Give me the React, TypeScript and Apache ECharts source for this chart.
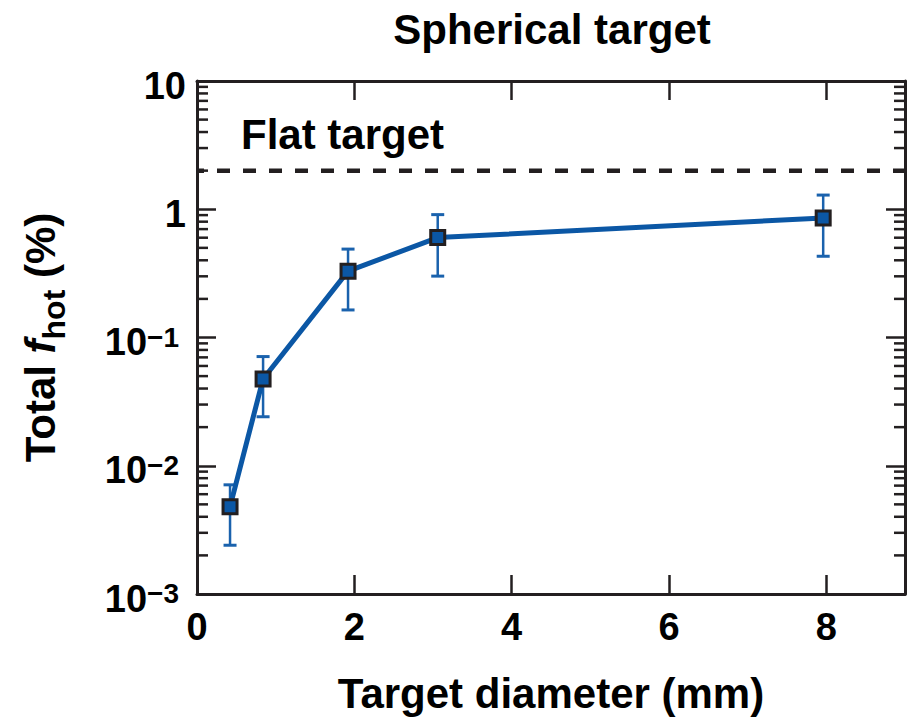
import React, { useEffect, useRef } from 'react';
import * as echarts from 'echarts';

// ---- data ----
const diameters = [0.42, 0.84, 1.92, 3.06, 7.96]; // mm
const fhot = [0.0048, 0.0475, 0.329, 0.601, 0.855]; // %
const errLow = [0.0024, 0.0241, 0.164, 0.301, 0.43];
const errHigh = [0.0071, 0.071, 0.489, 0.908, 1.29];
const flatTargetValue = 2; // %
const xRange = [0, 9];
const yRange = [0.001, 10];
const yDecadeExponents = [-3, -2, -1, 0];
const minorMultipliers = [2, 3, 4, 5, 6, 7, 8, 9];

const FONT = '"Liberation Sans", Arial, Helvetica, sans-serif';
const AXIS_COLOR = '#231f20';
const BLUE = '#0b57a5';
const ERR_BLUE = '#1a62ad';

export default function App() {
  const ref = useRef<HTMLDivElement>(null);

  useEffect(() => {
    document.body.style.margin = '0';
    if (!ref.current) return;
    const chart = echarts.init(ref.current, undefined, { renderer: 'svg' });

    const minorTickValues: number[] = [];
    yDecadeExponents.forEach((e) => {
      minorMultipliers.forEach((m) => minorTickValues.push(m * Math.pow(10, e)));
    });

    const yLabelFormatter = (v: number) => {
      const exp = Math.round(Math.log10(v));
      if (exp >= 0) return String(Math.round(v));
      return `{b|10}{s|\u2212${-exp}}`;
    };

    const commonY = {
      type: 'log',
      logBase: 10,
      min: yRange[0],
      max: yRange[1],
      axisLine: { show: true, onZero: false, lineStyle: { color: AXIS_COLOR, width: 3 } },
      axisTick: { show: true, inside: true, length: 19, lineStyle: { color: AXIS_COLOR, width: 2.5 } },
      splitLine: { show: false },
    };
    const commonX = {
      type: 'value',
      min: xRange[0],
      max: xRange[1],
      interval: 2,
      axisLine: { show: true, onZero: false, lineStyle: { color: AXIS_COLOR, width: 3 } },
      axisTick: { show: true, inside: true, length: 19, lineStyle: { color: AXIS_COLOR, width: 2.5 } },
      splitLine: { show: false },
    };

    const option: any = {
      animation: false,
      backgroundColor: '#ffffff',
      grid: { left: 197, right: 4, top: 81, bottom: 117.5, containLabel: false },
      xAxis: [
        {
          ...commonX,
          position: 'bottom',
          name: 'Target diameter (mm)',
          nameLocation: 'middle',
          nameGap: 99,
          nameTextStyle: {
            fontFamily: FONT, fontWeight: 'bold', fontSize: 42, color: '#000',
            verticalAlign: 'middle', align: 'center',
          },
          axisLabel: {
            show: true, margin: 14, fontFamily: FONT, fontWeight: 'bold', fontSize: 38, color: '#000',
            showMaxLabel: false,
            formatter: (v: number) => (v > 8 ? '' : String(v)),
          },
        },
        {
          ...commonX,
          position: 'top',
          axisLabel: { show: false },
        },
      ],
      yAxis: [
        {
          ...commonY,
          position: 'left',
          name: '{a|Total }{i|f}{s|hot}{a| (%)}',
          nameLocation: 'middle',
          nameRotate: 90,
          nameGap: 157,
          nameTextStyle: {
            verticalAlign: 'middle', align: 'center',
            rich: {
              a: { fontFamily: FONT, fontWeight: 'bold', fontSize: 42, color: '#000' },
              i: { fontFamily: FONT, fontWeight: 'bold', fontStyle: 'italic', fontSize: 42, color: '#000' },
              s: { fontFamily: FONT, fontWeight: 'bold', fontSize: 32, color: '#000', padding: [27, 0, 0, 0] },
            },
          },
          axisLabel: {
            show: true, margin: 11, fontFamily: FONT, fontWeight: 'bold', fontSize: 38, color: '#000',
            padding: [9, 0, 0, 0],
            formatter: yLabelFormatter,
            rich: {
              b: { fontFamily: FONT, fontWeight: 'bold', fontSize: 38, color: '#000' },
              s: { fontFamily: FONT, fontWeight: 'bold', fontSize: 28, color: '#000', padding: [0, 7, 10, 0] },
            },
          },
        },
        {
          ...commonY,
          position: 'right',
          axisLabel: { show: false },
        },
      ],
      graphic: [
        {
          type: 'text', x: 552, y: 29,
          style: {
            text: 'Spherical target', fontFamily: FONT, fontWeight: 'bold', fontSize: 42,
            fill: '#000', align: 'center', verticalAlign: 'middle',
          },
        },
        {
          type: 'text', x: 241, y: 134,
          style: {
            text: 'Flat target', fontFamily: FONT, fontWeight: 'bold', fontSize: 42,
            fill: '#000', align: 'left', verticalAlign: 'middle',
          },
        },
      ],
      series: [
        {
          // minor log ticks on left and right axes
          type: 'custom',
          xAxisIndex: 0,
          yAxisIndex: 0,
          silent: true,
          z: 1,
          data: minorTickValues.map((v) => [0, v]),
          renderItem: (params: any, api: any) => {
            const y = api.coord([0, api.value(1)])[1];
            const cs = params.coordSys;
            const style = { stroke: AXIS_COLOR, lineWidth: 2.5 };
            return {
              type: 'group',
              children: [
                { type: 'line', shape: { x1: cs.x, y1: y, x2: cs.x + 11, y2: y }, style },
                { type: 'line', shape: { x1: cs.x + cs.width - 11, y1: y, x2: cs.x + cs.width, y2: y }, style },
              ],
            };
          },
        },
        {
          // flat target reference level
          type: 'line',
          xAxisIndex: 0,
          yAxisIndex: 0,
          data: [[xRange[0], flatTargetValue], [xRange[1], flatTargetValue]],
          symbol: 'none',
          silent: true,
          z: 2,
          lineStyle: { color: AXIS_COLOR, width: 4.5, type: [13, 13], dashOffset: 5.5 },
        },
        {
          // error bars
          type: 'custom',
          xAxisIndex: 0,
          yAxisIndex: 0,
          silent: true,
          z: 3,
          data: diameters.map((d, i) => [d, errLow[i], errHigh[i]]),
          renderItem: (params: any, api: any) => {
            const x = api.value(0);
            const lo = api.coord([x, api.value(1)]);
            const hi = api.coord([x, api.value(2)]);
            const hw = 6.5;
            const style = { stroke: ERR_BLUE, lineWidth: 2.5 };
            return {
              type: 'group',
              children: [
                { type: 'line', shape: { x1: lo[0], y1: lo[1], x2: hi[0], y2: hi[1] }, style },
                { type: 'line', shape: { x1: lo[0] - hw, y1: lo[1], x2: lo[0] + hw, y2: lo[1] }, style: { ...style, lineWidth: 3 } },
                { type: 'line', shape: { x1: hi[0] - hw, y1: hi[1], x2: hi[0] + hw, y2: hi[1] }, style: { ...style, lineWidth: 3 } },
              ],
            };
          },
        },
        {
          name: 'Spherical target',
          type: 'line',
          xAxisIndex: 0,
          yAxisIndex: 0,
          z: 4,
          data: diameters.map((d, i) => [d, fhot[i]]),
          symbol: 'rect',
          symbolSize: 14,
          lineStyle: { color: BLUE, width: 5 },
          itemStyle: { color: BLUE, borderColor: AXIS_COLOR, borderWidth: 3 },
        },
      ],
    };

    chart.setOption(option);
    return () => chart.dispose();
  }, []);

  return <div ref={ref} style={{ width: 909, height: 719 }} />;
}
